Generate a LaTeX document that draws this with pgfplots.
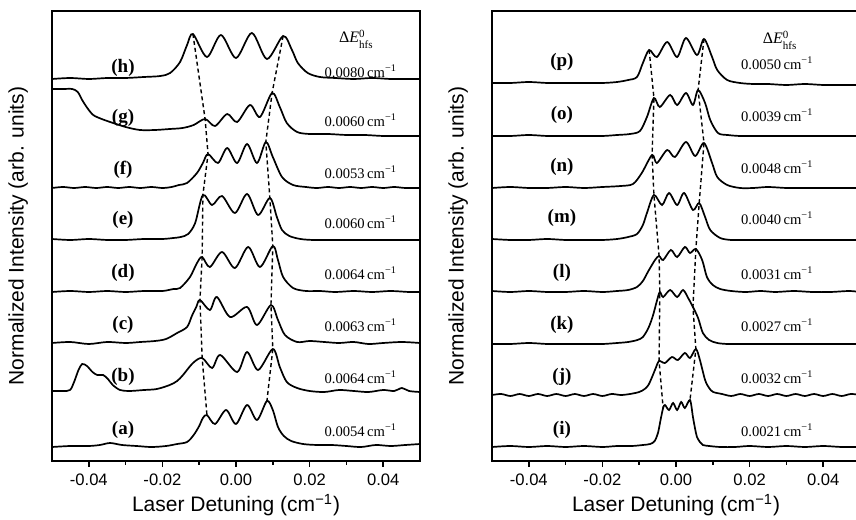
\documentclass[border=0pt]{standalone}
\usepackage{fontspec}
\setmainfont{Liberation Sans}
\newfontfamily\serif{Liberation Serif}
\usepackage{pgfplots}
\pgfplotsset{compat=1.18}

\pgfplotsset{
  panel/.style={
    width=184pt, height=225pt, scale only axis,
    xmin=-0.05, xmax=0.05, ymin=0, ymax=450,
    xtick={-0.04,-0.02,0,0.02,0.04}, minor x tick num=1,
    scaled x ticks=false,
    ytick=\empty, xtick pos=left, tick align=outside,
    major tick length=3pt, minor tick length=2pt,
    axis line style={line width=1.2pt},
    tick style={black, line width=0.8pt},
    /pgf/number format/assume math mode=true,
    xticklabel style={font=\fontsize{8.3}{10}\selectfont,
      /pgf/number format/.cd, fixed, fixed zerofill, precision=2},
    xlabel={Laser Detuning (cm\textsuperscript{−1})},
    ylabel={Normalized Intensity (arb. units)},
    label style={font=\fontsize{10.5}{12}\selectfont},
    x label style={at={(axis description cs:0.5,-0.098)}, anchor=center},
    y label style={at={(axis description cs:-0.092,0.5)}, anchor=center},
  },
  trace/.style={black, line width=0.85pt, smooth, tension=0.5, mark=none},
  guide/.style={black, line width=0.7pt, dash pattern=on 2pt off 1.5pt, mark=none},
}
\tikzset{
  tag/.style={font=\serif\bfseries\fontsize{9.5}{10}\selectfont},
  val/.style={font=\serif\fontsize{7.3}{8}\selectfont},
}
\newcommand\dE{{\serif\fontsize{8}{9}\selectfont Δ\textit{E}$^{\mbox{\serif\fontsize{5.5}{6}\selectfont 0}}_{\mbox{\serif\fontsize{5.5}{6}\selectfont hfs}}$}}
\newcommand\cm{\,cm\textsuperscript{−1}}

\begin{document}
\begin{tikzpicture}
% ---------------- left panel ----------------
\begin{axis}[panel, at={(26pt,29pt)}, anchor=south west]
% (h)
\addplot[trace] coordinates {(-0.0500,382) (-0.0450,383) (-0.0400,382) (-0.0350,383) (-0.0300,383) (-0.0250,384) (-0.0205,385) (-0.0179,388) (-0.0152,399) (-0.0133,416) (-0.0117,427) (-0.0079,404) (-0.0041,426) (0.0000,403) (0.0043,428) (0.0084,402) (0.0128,425) (0.0152,411) (0.0168,398) (0.0195,388) (0.0228,384) (0.0270,383) (0.0320,382) (0.0370,383) (0.0420,382) (0.0470,382) (0.0500,382)};
% (g)
\addplot[trace] coordinates {(-0.0500,372) (-0.0470,372) (-0.0445,372) (-0.0430,369) (-0.0418,361) (-0.0404,353) (-0.0388,346) (-0.0365,342) (-0.0342,339) (-0.0300,334) (-0.0261,331) (-0.0220,331) (-0.0180,332) (-0.0145,333) (-0.0115,336) (-0.0084,342) (-0.0057,335) (-0.0024,347) (0.0003,339) (0.0038,356) (0.0065,344) (0.0098,368) (0.0119,354) (0.0138,338) (0.0166,329) (0.0200,327) (0.0250,327) (0.0300,326) (0.0350,326) (0.0400,325) (0.0450,325) (0.0500,325)};
% (f)
\addplot[trace] coordinates {(-0.0500,273) (-0.0470,274) (-0.0440,273) (-0.0410,274) (-0.0380,273) (-0.0350,274) (-0.0320,273) (-0.0290,274) (-0.0260,273) (-0.0230,274) (-0.0200,273) (-0.0175,274) (-0.0155,276) (-0.0133,278) (-0.0106,288) (-0.0090,298) (-0.0076,307) (-0.0049,298) (-0.0024,313) (0.0003,298) (0.0030,317) (0.0057,298) (0.0081,319) (0.0100,304) (0.0125,284) (0.0155,276) (0.0190,274) (0.0220,273) (0.0250,274) (0.0280,273) (0.0310,274) (0.0340,273) (0.0370,274) (0.0400,273) (0.0430,274) (0.0460,273) (0.0500,273)};
% (e)
\addplot[trace] coordinates {(-0.0500,222) (-0.0450,221) (-0.0400,222) (-0.0350,221) (-0.0300,221) (-0.0250,222) (-0.0200,222) (-0.0170,223) (-0.0150,224) (-0.0130,227) (-0.0111,238) (-0.0090,266) (-0.0065,256) (-0.0038,265) (-0.0003,248) (0.0030,267) (0.0060,246) (0.0092,263) (0.0111,244) (0.0125,231) (0.0145,225) (0.0175,222) (0.0210,221) (0.0250,221) (0.0300,221) (0.0350,221) (0.0400,221) (0.0450,221) (0.0500,221)};
% (d)
\addplot[trace] coordinates {(-0.0500,169) (-0.0450,170) (-0.0400,169) (-0.0350,170) (-0.0300,169) (-0.0250,170) (-0.0200,170) (-0.0170,172) (-0.0152,173) (-0.0125,184) (-0.0106,198) (-0.0092,204) (-0.0071,194) (-0.0038,209) (-0.0003,193) (0.0033,214) (0.0065,194) (0.0100,215) (0.0114,201) (0.0128,184) (0.0155,173) (0.0190,170) (0.0228,170) (0.0270,169) (0.0320,170) (0.0370,169) (0.0420,170) (0.0470,169) (0.0500,169)};
% (c)
\addplot[trace] coordinates {(-0.0500,118) (-0.0450,119) (-0.0400,117) (-0.0350,119) (-0.0300,118) (-0.0260,119) (-0.0220,120) (-0.0190,122) (-0.0160,128) (-0.0133,134) (-0.0120,145) (-0.0108,154) (-0.0098,161) (-0.0071,151) (-0.0052,164) (-0.0016,144) (0.0030,154) (0.0057,136) (0.0095,156) (0.0114,141) (0.0133,126) (0.0166,119) (0.0200,120) (0.0240,119) (0.0280,118) (0.0320,119) (0.0360,117) (0.0400,118) (0.0450,119) (0.0500,118)};
% (b)
\addplot[trace] coordinates {(-0.0500,70) (-0.0470,70) (-0.0451,71) (-0.0440,79) (-0.0428,91) (-0.0418,97) (-0.0405,95) (-0.0390,89) (-0.0377,86) (-0.0361,86) (-0.0348,82) (-0.0335,76) (-0.0315,71) (-0.0290,70) (-0.0250,71) (-0.0215,72) (-0.0180,76) (-0.0160,80) (-0.0144,86) (-0.0117,98) (-0.0092,103) (-0.0065,93) (-0.0043,106) (0.0003,89) (0.0030,109) (0.0060,91) (0.0100,112) (0.0119,94) (0.0138,79) (0.0166,73) (0.0200,70) (0.0240,69) (0.0280,71) (0.0320,70) (0.0360,69) (0.0400,71) (0.0430,70) (0.0451,73) (0.0470,70) (0.0500,69)};
% (a)
\addplot[trace] coordinates {(-0.0500,14) (-0.0450,15) (-0.0400,15) (-0.0370,16) (-0.0342,18) (-0.0310,16) (-0.0270,15) (-0.0230,14) (-0.0190,15) (-0.0160,17) (-0.0133,19) (-0.0115,26) (-0.0100,35) (-0.0090,43) (-0.0079,46) (-0.0057,37) (-0.0027,51) (0.0000,37) (0.0030,56) (0.0057,41) (0.0084,60) (0.0100,51) (0.0114,34) (0.0130,25) (0.0150,20) (0.0182,17) (0.0220,16) (0.0260,16) (0.0300,15) (0.0340,14) (0.0380,16) (0.0420,15) (0.0460,16) (0.0500,17)};
% guides through outer peaks
\addplot[guide] coordinates {(-0.0117,427) (-0.0084,342) (-0.0076,307) (-0.0090,266) (-0.0092,204) (-0.0098,161) (-0.0092,103) (-0.0079,46)};
\addplot[guide] coordinates {(0.0128,425) (0.0098,368) (0.0081,319) (0.0092,263) (0.0100,215) (0.0095,156) (0.0100,112) (0.0084,60)};
\node[tag] at (axis cs:-0.0307,393) {(h)};
\node[tag] at (axis cs:-0.0307,343) {(g)};
\node[tag] at (axis cs:-0.0307,291) {(f)};
\node[tag] at (axis cs:-0.0307,241) {(e)};
\node[tag] at (axis cs:-0.0307,188) {(d)};
\node[tag] at (axis cs:-0.0307,136) {(c)};
\node[tag] at (axis cs:-0.0307,84) {(b)};
\node[tag] at (axis cs:-0.0307,31) {(a)};
\node at (axis cs:0.0327,422) {\dE};
\node[val] at (axis cs:0.0339,390) {0.0080\cm};
\node[val] at (axis cs:0.0339,341) {0.0060\cm};
\node[val] at (axis cs:0.0339,289) {0.0053\cm};
\node[val] at (axis cs:0.0339,239) {0.0060\cm};
\node[val] at (axis cs:0.0339,188) {0.0064\cm};
\node[val] at (axis cs:0.0339,136) {0.0063\cm};
\node[val] at (axis cs:0.0339,84) {0.0064\cm};
\node[val] at (axis cs:0.0339,31) {0.0054\cm};
\end{axis}
% ---------------- right panel ----------------
\begin{axis}[panel, at={(246pt,29pt)}, anchor=south west]
% (p)
\addplot[trace] coordinates {(-0.0500,378) (-0.0450,378) (-0.0400,379) (-0.0350,378) (-0.0300,378) (-0.0250,378) (-0.0200,378) (-0.0160,379) (-0.0130,381) (-0.0106,384) (-0.0090,398) (-0.0073,411) (-0.0052,404) (-0.0024,419) (0.0003,404) (0.0027,423) (0.0057,406) (0.0076,422) (0.0098,404) (0.0112,391) (0.0139,381) (0.0174,378) (0.0210,377) (0.0250,377) (0.0300,376) (0.0350,377) (0.0400,376) (0.0450,376) (0.0500,376)};
% (o)
\addplot[trace] coordinates {(-0.0500,325) (-0.0450,325) (-0.0400,326) (-0.0350,325) (-0.0300,325) (-0.0250,325) (-0.0200,325) (-0.0160,326) (-0.0125,327) (-0.0098,330) (-0.0079,344) (-0.0060,363) (-0.0044,354) (-0.0016,366) (0.0003,356) (0.0027,368) (0.0046,356) (0.0060,371) (0.0079,358) (0.0093,341) (0.0114,328) (0.0140,326) (0.0174,325) (0.0210,325) (0.0250,325) (0.0300,325) (0.0350,325) (0.0400,325) (0.0450,325) (0.0500,325)};
% (n)
\addplot[trace] coordinates {(-0.0500,273) (-0.0450,274) (-0.0400,273) (-0.0350,273) (-0.0300,274) (-0.0250,273) (-0.0200,274) (-0.0150,275) (-0.0117,277) (-0.0093,288) (-0.0065,306) (-0.0052,298) (-0.0024,311) (-0.0003,304) (0.0027,319) (0.0052,305) (0.0076,318) (0.0098,298) (0.0112,284) (0.0139,276) (0.0174,273) (0.0210,273) (0.0250,274) (0.0300,273) (0.0350,273) (0.0400,273) (0.0450,273) (0.0500,273)};
% (m)
\addplot[trace] coordinates {(-0.0500,222) (-0.0450,221) (-0.0400,221) (-0.0350,222) (-0.0300,221) (-0.0250,221) (-0.0200,221) (-0.0160,222) (-0.0130,224) (-0.0106,227) (-0.0090,236) (-0.0079,248) (-0.0060,266) (-0.0038,256) (-0.0019,268) (0.0003,256) (0.0022,268) (0.0046,251) (0.0063,258) (0.0079,244) (0.0093,231) (0.0120,223) (0.0150,221) (0.0174,221) (0.0210,221) (0.0250,221) (0.0300,221) (0.0350,221) (0.0400,221) (0.0450,221) (0.0500,221)};
% (l)
\addplot[trace] coordinates {(-0.0500,170) (-0.0450,169) (-0.0400,170) (-0.0350,169) (-0.0300,169) (-0.0250,170) (-0.0200,169) (-0.0160,170) (-0.0130,171) (-0.0106,174) (-0.0090,180) (-0.0075,190) (-0.0057,201) (-0.0046,205) (-0.0035,201) (-0.0014,211) (0.0003,204) (0.0024,214) (0.0038,208) (0.0054,212) (0.0071,201) (0.0084,184) (0.0100,176) (0.0120,172) (0.0150,170) (0.0190,169) (0.0230,170) (0.0270,169) (0.0320,170) (0.0370,169) (0.0420,169) (0.0470,170) (0.0500,169)};
% (k)
\addplot[trace] coordinates {(-0.0500,117) (-0.0450,117) (-0.0400,118) (-0.0350,117) (-0.0300,117) (-0.0250,117) (-0.0200,117) (-0.0160,118) (-0.0130,119) (-0.0105,121) (-0.0090,124) (-0.0075,133) (-0.0063,145) (-0.0052,160) (-0.0044,169) (-0.0035,164) (-0.0016,171) (0.0003,164) (0.0019,171) (0.0033,163) (0.0046,154) (0.0060,143) (0.0073,128) (0.0090,121) (0.0112,118) (0.0140,117) (0.0174,117) (0.0210,117) (0.0250,117) (0.0300,117) (0.0350,117) (0.0400,117) (0.0450,117) (0.0500,117)};
% (j)
\addplot[trace] coordinates {(-0.0500,66) (-0.0475,67) (-0.0450,65) (-0.0425,67) (-0.0400,65) (-0.0375,67) (-0.0350,65) (-0.0325,67) (-0.0300,65) (-0.0275,67) (-0.0250,65) (-0.0225,67) (-0.0200,65) (-0.0175,67) (-0.0150,66) (-0.0125,67) (-0.0100,69) (-0.0085,72) (-0.0075,76) (-0.0065,84) (-0.0055,93) (-0.0046,100) (-0.0030,98) (-0.0011,104) (0.0005,101) (0.0024,108) (0.0038,103) (0.0054,112) (0.0065,101) (0.0079,81) (0.0090,73) (0.0101,69) (0.0125,67) (0.0150,65) (0.0175,67) (0.0200,65) (0.0225,67) (0.0250,65) (0.0275,67) (0.0300,65) (0.0325,67) (0.0350,65) (0.0375,67) (0.0400,65) (0.0425,67) (0.0450,65) (0.0475,67) (0.0500,66)};
% (i)
\addplot[trace] coordinates {(-0.0500,14) (-0.0450,15) (-0.0400,14) (-0.0350,15) (-0.0300,14) (-0.0250,15) (-0.0200,14) (-0.0160,15) (-0.0120,15) (-0.0090,16) (-0.0070,17) (-0.0058,20) (-0.0049,28) (-0.0042,41) (-0.0035,53) (-0.0030,56) (-0.0019,51) (-0.0008,58) (0.0003,51) (0.0014,59) (0.0024,53) (0.0038,61) (0.0046,44) (0.0052,32) (0.0057,24) (0.0065,19) (0.0073,16) (0.0090,15) (0.0120,14) (0.0160,14) (0.0200,15) (0.0250,14) (0.0300,15) (0.0350,14) (0.0400,15) (0.0450,14) (0.0500,14)};
\addplot[guide] coordinates {(-0.0073,411) (-0.0060,363) (-0.0065,306) (-0.0060,266) (-0.0046,205) (-0.0044,169) (-0.0046,100) (-0.0035,53)};
\addplot[guide] coordinates {(0.0076,422) (0.0060,371) (0.0076,318) (0.0063,258) (0.0054,212) (0.0046,154) (0.0054,112) (0.0038,61)};
\node[tag] at (axis cs:-0.0310,399) {(p)};
\node[tag] at (axis cs:-0.0310,346) {(o)};
\node[tag] at (axis cs:-0.0310,294) {(n)};
\node[tag] at (axis cs:-0.0310,243) {(m)};
\node[tag] at (axis cs:-0.0310,188) {(l)};
\node[tag] at (axis cs:-0.0310,136) {(k)};
\node[tag] at (axis cs:-0.0310,84) {(j)};
\node[tag] at (axis cs:-0.0310,31) {(i)};
\node at (axis cs:0.0283,421) {\dE};
\node[val] at (axis cs:0.0275,398) {0.0050\cm};
\node[val] at (axis cs:0.0275,346) {0.0039\cm};
\node[val] at (axis cs:0.0275,294) {0.0048\cm};
\node[val] at (axis cs:0.0275,243) {0.0040\cm};
\node[val] at (axis cs:0.0275,188) {0.0031\cm};
\node[val] at (axis cs:0.0275,136) {0.0027\cm};
\node[val] at (axis cs:0.0275,84) {0.0032\cm};
\node[val] at (axis cs:0.0275,31) {0.0021\cm};
\end{axis}
\pgfresetboundingbox
\path[use as bounding box] (0,0) rectangle (428pt,259.5pt);
\end{tikzpicture}
\end{document}
